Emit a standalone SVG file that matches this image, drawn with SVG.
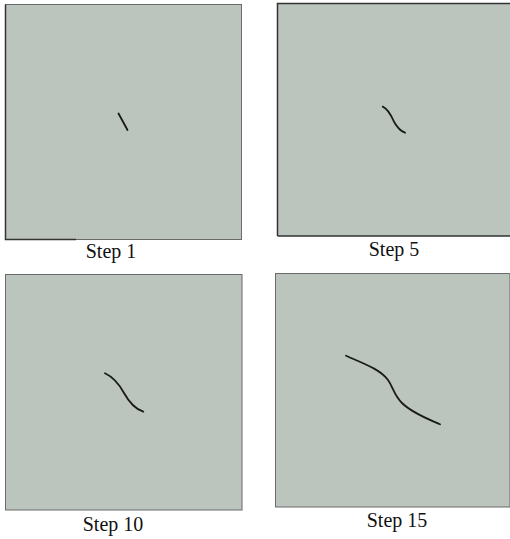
<svg xmlns="http://www.w3.org/2000/svg" width="510" height="539" viewBox="0 0 510 539">
<style>
.panel{fill:#bcc4be;stroke:#6a6a6a;stroke-width:1}
.edge{stroke:#333;stroke-width:1.5;fill:none}
.crack{fill:none;stroke:#1a1a1a;stroke-width:1.8;stroke-linecap:round}
.lbl{font-family:"Liberation Serif","Times New Roman",serif;font-size:20px;fill:#111;text-anchor:middle}
</style>
<rect width="510" height="539" fill="#fff"/>
<g id="step1">
<rect class="panel" x="5.5" y="4.5" width="236" height="235"/>
<path class="edge" d="M5.5 4.5 V239.5 H76"/>
<path class="crack" d="M118.5 113.5 L127.5 130"/>
<text class="lbl" x="111" y="258">Step 1</text>
</g>
<g id="step5">
<rect x="277" y="3.5" width="233" height="232.5" fill="#bcc4be"/>
<path class="edge" d="M277.5 236 V3.5 H510 M277.5 236 H510"/>
<path class="crack" d="M382.7 106.7 C388 109 391 115 394 121.7 C397 127 400 131 405 132.7"/>
<text class="lbl" x="394" y="256">Step 5</text>
</g>
<g id="step10">
<rect class="panel" x="5.5" y="274.5" width="236.5" height="235.5"/>
<path class="crack" d="M105 373.3 C113 377 119 384 124 393 C129 402 135 409 143.3 411.7"/>
<text class="lbl" x="113" y="531">Step 10</text>
</g>
<g id="step15">
<rect x="275.5" y="273.5" width="234.5" height="233.5" fill="#bcc4be" stroke="#6a6a6a"/>
<path class="crack" d="M346 355.7 C362 363 380 369 388 380 C393 387 394 395 402 403 C412 413 428 419 440 424.3"/>
<text class="lbl" x="397" y="527">Step 15</text>
</g>
</svg>
